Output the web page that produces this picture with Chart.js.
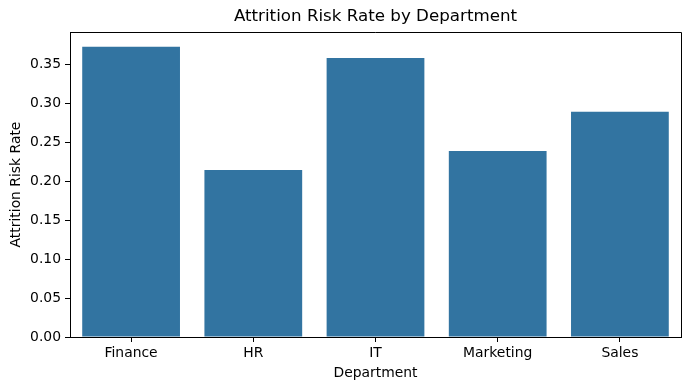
<!DOCTYPE html>
<html>
<head>
<meta charset="utf-8">
<script src="https://cdn.jsdelivr.net/npm/chart.js@4.4.0/dist/chart.umd.min.js"></script>
<style>
  html, body { margin: 0; padding: 0; background: #fff; }
  #wrap { width: 689px; height: 390px; position: relative; }
</style>
</head>
<body>
<div id="wrap"><canvas id="attritionChart"></canvas></div>
<script>
// data
const departments = ['Finance', 'HR', 'IT', 'Marketing', 'Sales'];
const attritionRates = [0.373, 0.2145, 0.3585, 0.239, 0.2895];
const yTickValues = [0, 0.05, 0.10, 0.15, 0.20, 0.25, 0.30, 0.35];
const yMax = 0.3918;

const chartTitle = 'Attrition Risk Rate by Department';
const barColor = '#3274a1';
const FONT = 'DejaVu Sans';

// title over the plot area + top/right spines (matplotlib style frame)
const frameAndTitle = {
  id: 'frameAndTitle',
  afterDraw(chart) {
    const { ctx, chartArea } = chart;
    ctx.save();
    ctx.strokeStyle = '#000';
    ctx.lineWidth = 1;
    ctx.beginPath();
    ctx.moveTo(chartArea.left, chartArea.top + 0.5);
    ctx.lineTo(chartArea.right + 0.5, chartArea.top + 0.5);
    ctx.lineTo(chartArea.right + 0.5, chartArea.bottom);
    ctx.stroke();

    ctx.fillStyle = '#000';
    ctx.font = '16.7px "' + FONT + '"';
    ctx.textAlign = 'center';
    ctx.textBaseline = 'middle';
    ctx.fillText(chartTitle, (chartArea.left + chartArea.right) / 2, 17);
    ctx.restore();
  }
};

new Chart(document.getElementById('attritionChart'), {
  type: 'bar',
  data: {
    labels: departments,
    datasets: [{
      label: 'Attrition Risk Rate',
      data: attritionRates,
      backgroundColor: barColor,
      borderWidth: 0,
      barPercentage: 0.8,
      categoryPercentage: 1.0
    }]
  },
  options: {
    responsive: true,
    maintainAspectRatio: false,
    animation: false,
    layout: { padding: { top: 32, right: 8, left: 0, bottom: 0 } },
    plugins: {
      legend: { display: false },
      tooltip: { enabled: false }
    },
    scales: {
      x: {
        offset: true,
        grid: { display: true, offset: false, drawOnChartArea: false, drawTicks: true, tickLength: 5, color: '#000' },
        border: { display: true, color: '#000', width: 1 },
        ticks: { color: '#000', padding: 3, font: { family: FONT, size: 13.9 } },
        title: { display: true, text: 'Department', color: '#000', padding: { top: 0, bottom: 8 }, font: { family: FONT, size: 13.9 } },
        afterFit(scale) { scale.height = 53; }
      },
      y: {
        min: 0,
        max: yMax,
        grid: { display: true, drawOnChartArea: false, drawTicks: true, tickLength: 5, color: '#000' },
        border: { display: true, color: '#000', width: 1 },
        ticks: {
          color: '#000',
          padding: 4,
          font: { family: FONT, size: 13.9 },
          callback: (v) => Number(v).toFixed(2)
        },
        title: { display: true, text: 'Attrition Risk Rate', color: '#000', padding: { top: 8, bottom: 8 }, font: { family: FONT, size: 13.9 } },
        afterBuildTicks(scale) { scale.ticks = yTickValues.map(v => ({ value: v })); },
        afterFit(scale) { scale.width = 70; }
      }
    }
  },
  plugins: [frameAndTitle]
});
</script>
</body>
</html>
